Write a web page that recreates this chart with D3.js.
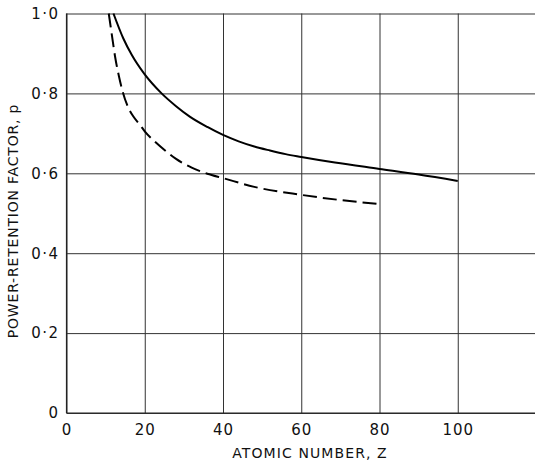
<!DOCTYPE html>
<html><head><meta charset="utf-8">
<script src="https://cdn.jsdelivr.net/npm/d3@7"></script>
<style>
html,body{margin:0;padding:0;background:#fff;}
svg{display:block;}
text{font-family:"DejaVu Sans",sans-serif;fill:#111;}
</style></head>
<body>
<svg id="c" width="535" height="462"></svg>
<script>
// Data
const xTickValues = [0, 20, 40, 60, 80, 100];
const xTickLabels = ["0", "20", "40", "60", "80", "100"];
const yTickValues = [0, 0.2, 0.4, 0.6, 0.8, 1.0];
const yTickLabels = ["0", "0·2", "0·4", "0·6", "0·8", "1·0"];
const xTitle = "ATOMIC NUMBER, Z";
const yTitle = "POWER-RETENTION FACTOR, p";

// solid curve
const solidZ = [12, 14.5, 16.7, 19.8, 24.3, 28, 31.5, 36, 40, 44, 48, 52, 56, 60, 68.6, 80, 90, 100];
const solidP = [1.0, 0.938, 0.896, 0.85, 0.80, 0.768, 0.742, 0.716, 0.696, 0.680, 0.667, 0.657, 0.648, 0.641, 0.627, 0.611, 0.597, 0.581];
// dashed curve
const dashZ = [10.8, 11.6, 12.4, 13.4, 14.4, 15.5, 17.1, 18.8, 20, 22.5, 25.6, 28, 32, 36, 40, 48, 60, 70, 80];
const dashP = [1.0, 0.946, 0.893, 0.843, 0.803, 0.771, 0.742, 0.721, 0.705, 0.68, 0.654, 0.636, 0.614, 0.599, 0.588, 0.566, 0.546, 0.533, 0.523];

const svg = d3.select("#c");
const x = d3.scaleLinear().domain([0, 120]).range([66.5, 536]);
const y = d3.scaleLinear().domain([0, 1]).range([413, 13.5]);

// grid/axes
const gx = svg.append("g").attr("transform", `translate(0,${y(0)})`)
  .call(d3.axisBottom(x).tickValues(xTickValues)
    .tickFormat((d, i) => xTickLabels[i])
    .tickSize(-(y(0) - y(1))).tickPadding(11));
gx.select(".domain").remove();
gx.selectAll("line").attr("stroke", "#333").attr("stroke-width", 1);
gx.selectAll("text").attr("font-size", 15).attr("fill", "#111").style("letter-spacing", "1px");

const gy = svg.append("g").attr("transform", `translate(${x(0)},0)`)
  .call(d3.axisLeft(y).tickValues(yTickValues)
    .tickFormat((d, i) => yTickLabels[i])
    .tickSize(-(535 - x(0))).tickPadding(7));
gy.select(".domain").remove();
gy.selectAll("line").attr("stroke", "#333").attr("stroke-width", 1);
gy.selectAll("text").attr("font-size", 15).attr("fill", "#111").style("letter-spacing", "1.5px");

// left & bottom axis lines
svg.append("line").attr("x1", x(0)).attr("x2", x(0)).attr("y1", y(1)).attr("y2", y(0))
  .attr("stroke", "#222").attr("stroke-width", 1.2);
svg.append("line").attr("x1", x(0)).attr("x2", 535).attr("y1", y(0)).attr("y2", y(0))
  .attr("stroke", "#222").attr("stroke-width", 1.2);

const line = d3.line().x(d => x(d[0])).y(d => y(d[1])).curve(d3.curveMonotoneX);

svg.append("path").datum(solidZ.map((z, i) => [z, solidP[i]]))
  .attr("d", line).attr("fill", "none").attr("stroke", "#000").attr("stroke-width", 2);
svg.append("path").datum(dashZ.map((z, i) => [z, dashP[i]]))
  .attr("d", line).attr("fill", "none").attr("stroke", "#000").attr("stroke-width", 2)
  .attr("stroke-dasharray", "14,6");

// titles
svg.append("text").attr("x", 310).attr("y", 458).attr("text-anchor", "middle")
  .attr("font-size", 14).style("letter-spacing", "1.1px").text(xTitle);
svg.append("text").attr("transform", "translate(18,221) rotate(-90)").attr("text-anchor", "middle")
  .attr("font-size", 14).style("letter-spacing", "0.8px").text(yTitle);
</script>
</body></html>
